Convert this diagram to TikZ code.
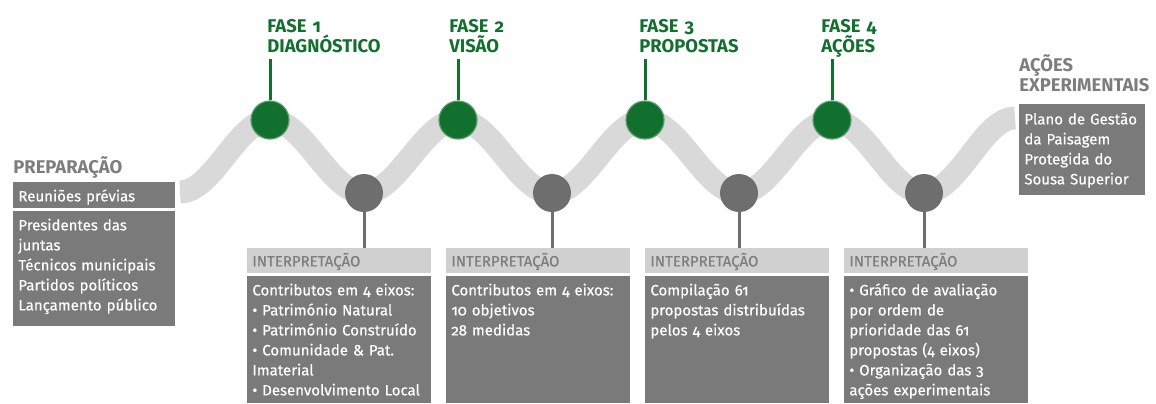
\documentclass[tikz,border=0pt]{standalone}
\usepackage{fontspec}
\setmainfont{Fira Sans}[Numbers=OldStyle]
\newfontfamily\medio{Fira Sans}[Numbers=OldStyle, FakeBold=0.4]
\hyphenpenalty=10000
\exhyphenpenalty=10000

\definecolor{verdefase}{HTML}{12702E}
\definecolor{cinzaonda}{HTML}{D9D9D9}
\definecolor{cinzacaixa}{HTML}{7A7A7A}
\definecolor{cinzatopo}{HTML}{D0D0D0}
\definecolor{cinzaponto}{HTML}{6E6E6E}
\definecolor{cinzatitulo}{HTML}{7D7D7D}

\begin{document}
\begin{tikzpicture}[x=0.5pt, y=-0.5pt,
    titulo/.style={text width=90pt, align=left, inner sep=0pt, anchor=base west, font=\fontsize{9.2}{10}\selectfont\bfseries},
    fase/.style={titulo, text=verdefase, text depth=13.5pt},
    caixa/.style={fill=cinzacaixa, text=white, anchor=north west, align=left, inner xsep=2.5pt, inner ysep=2.5pt, text height=7pt, font=\medio\fontsize{7.5}{10}\selectfont},
    topo/.style={caixa, fill=cinzatopo, text=cinzatitulo, inner ysep=2pt, text depth=1.5pt},
    pico/.style={circle, fill=verdefase, draw=verdefase!70!white, line width=0.6pt, minimum size=19pt, inner sep=0pt},
    vale/.style={circle, fill=cinzaponto, minimum size=19pt, inner sep=0pt},
    haste/.style={line width=1.5pt}]
    \useasboundingbox (0,0) rectangle (1156,403);

    % the wave
    \draw[cinzaonda, line width=11.5pt] (180,192) cos (225,156.5) sin (270,120) cos (317,156.5) sin (364,193)
        cos (411,156.5) sin (458,120) cos (505,156.5) sin (552,193) cos (598.5,156.5) sin (645,120)
        cos (692,156.5) sin (739,193) cos (785.5,156.5) sin (832,120) cos (878,156.5) sin (924,193)
        cos (969.5,156.5) sin (1015,118);

    % Preparacao
    \node[titulo, text=cinzatitulo] (prep) at (13,173) {PREPARAÇÃO};
    \node[caixa, text width=76pt, text depth=1pt] (reun) at (13,182) {Reuniões prévias};
    \node[caixa, text width=76pt, text depth=45.5pt] (pres) at (13,211) {Presidentes das\\juntas\\Técnicos municipais\\Partidos políticos\\Lançamento público};

    % Acoes experimentais
    \node[titulo, text=cinzatitulo] (acoes) at (1019,71) {AÇÕES\\EXPERIMENTAIS};
    \node[caixa, text width=58pt, inner ysep=3pt, text depth=32.5pt] (plano) at (1019,104) {Plano de Gestão\\da Paisagem\\Protegida do\\Sousa Superior};

    % Fases
    \node[pico] (p1) at (270,120) {};
    \node[pico] (p2) at (458,120) {};
    \node[pico] (p3) at (645,120) {};
    \node[pico] (p4) at (832,120) {};
    \node[fase] (f1) at (267,32) {FASE 1\\DIAGNÓSTICO};
    \node[fase] (f2) at (449,32) {FASE 2\\VISÃO};
    \node[fase] (f3) at (639,32) {FASE 3\\PROPOSTAS};
    \node[fase] (f4) at (821,32) {FASE 4\\AÇÕES};
    \draw[haste, verdefase] (p1.north) -- (f1.south -| p1);
    \draw[haste, verdefase] (p2.north) -- (f2.south -| p2);
    \draw[haste, verdefase] (p3.north) -- (f3.south -| p3);
    \draw[haste, verdefase] (p4.north) -- (f4.south -| p4);

    % Interpretacao
    \node[vale] (v1) at (364,193) {};
    \node[vale] (v2) at (552,193) {};
    \node[vale] (v3) at (739,193) {};
    \node[vale] (v4) at (924,193) {};
    \node[topo, text width=87pt] (i1) at (247,248) {INTERPRETAÇÃO};
    \node[topo, text width=87pt] (i2) at (446,248) {INTERPRETAÇÃO};
    \node[topo, text width=87pt] (i3) at (645,248) {INTERPRETAÇÃO};
    \node[topo, text width=87pt] (i4) at (844,248) {INTERPRETAÇÃO};
    \draw[haste, cinzaponto] (v1.south) -- (i1.north -| v1);
    \draw[haste, cinzaponto] (v2.south) -- (i2.north -| v2);
    \draw[haste, cinzaponto] (v3.south) -- (i3.north -| v3);
    \draw[haste, cinzaponto] (v4.south) -- (i4.north -| v4);
    \node[caixa, text width=87pt, text depth=51.5pt] (c1) at (247,276) {Contributos em 4 eixos:\\• Património Natural\\• Património Construído\\• Comunidade \& Pat.\\Imaterial\\• Desenvolvimento Local};
    \node[caixa, text width=87pt, text depth=51.5pt] (c2) at (446,276) {Contributos em 4 eixos:\\10 objetivos\\28 medidas};
    \node[caixa, text width=87pt, text depth=51.5pt] (c3) at (645,276) {Compilação 61\\propostas distribuídas\\pelos 4 eixos};
    \node[caixa, text width=87pt, text depth=51.5pt] (c4) at (844,276) {• Gráfico de avaliação\\por ordem de\\prioridade das 61\\propostas (4 eixos)\\• Organização das 3\\ações experimentais};
\end{tikzpicture}
\end{document}
